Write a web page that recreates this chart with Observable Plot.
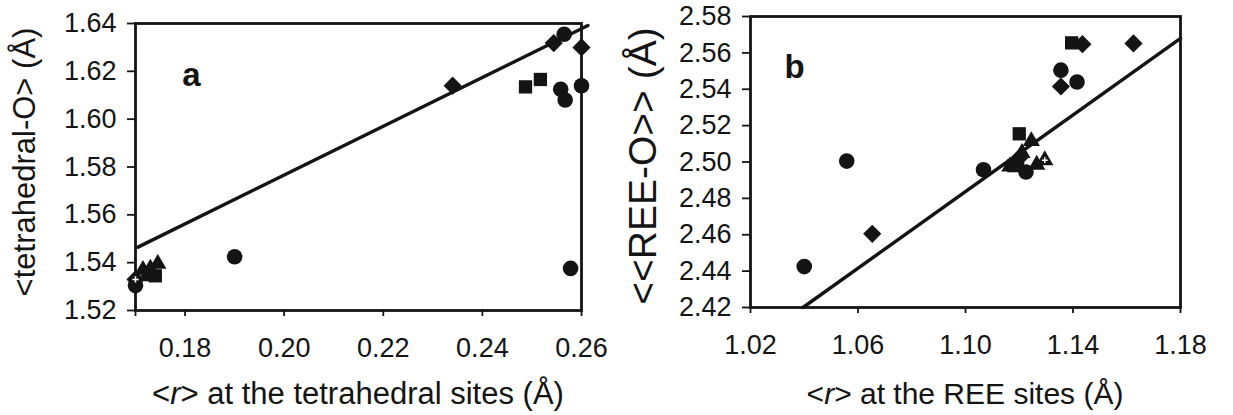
<!DOCTYPE html>
<html><head><meta charset="utf-8">
<script src="https://cdn.jsdelivr.net/npm/d3@7"></script>
<script src="https://cdn.jsdelivr.net/npm/@observablehq/plot@0.6"></script>
<style>
body{margin:0;background:#fff;}
#wrap{display:flex;width:1233px;height:415px;overflow:hidden;}
#wrap svg{display:block;flex:none;}
</style></head><body><div id="wrap"></div>
<script>
// ---------- Panel a ----------
const aXTicks = [0.17, 0.18, 0.20, 0.22, 0.24, 0.26];
const aXLabels = [0.18, 0.20, 0.22, 0.24, 0.26];
const aYTicks = [1.52, 1.54, 1.56, 1.58, 1.60, 1.62, 1.64];
const aCircles = [[0.2565,1.6355],[0.2600,1.6140],[0.2558,1.6125],[0.2567,1.6080],[0.2578,1.5376],[0.1900,1.5425],[0.1700,1.5305]];
const aDiamonds = [[0.2340,1.6140],[0.2544,1.6318],[0.2600,1.6300]];
const aCrossDiamonds = [[0.1700,1.5330]];
const aSquares = [[0.2487,1.6135],[0.2517,1.6166],[0.1725,1.5350],[0.1740,1.5345]];
const aTriangles = [[0.1715,1.5370],[0.1730,1.5375],[0.1745,1.5395]];
const aOpenTriangles = [];
const aFit = [[0.1705,1.5465],[0.2613,1.6392]];
const aXTitle = "<r> at the tetrahedral sites (Å)";
const aYTitle = "<tetrahedral-O> (Å)";

// ---------- Panel b ----------
const bXTicks = [1.02, 1.06, 1.10, 1.14, 1.18];
const bXLabels = [1.02, 1.06, 1.10, 1.14, 1.18];
const bYTicks = [2.42, 2.44, 2.46, 2.48, 2.50, 2.52, 2.54, 2.56, 2.58];
const bCircles = [[1.0400,2.4425],[1.0558,2.5005],[1.1067,2.4957],[1.1225,2.4945],[1.1190,2.4990],[1.1355,2.5505],[1.1415,2.5440]];
const bDiamonds = [[1.0653,2.4605],[1.1355,2.5415],[1.1435,2.5648],[1.1625,2.5652],[1.1205,2.5030]];
const bCrossDiamonds = [];
const bSquares = [[1.1200,2.5155],[1.1395,2.5655],[1.1180,2.4980]];
const bTriangles = [[1.1245,2.5115],[1.1165,2.4975],[1.1265,2.4985],[1.1210,2.5050]];
const bOpenTriangles = [[1.1295,2.5010]];
const bFit = [[1.0395,2.4200],[1.1800,2.5680]];
const bXTitle = "<r> at the REE sites (Å)";
const bYTitle = "<<REE-O>> (Å)";

const INK = "#141414";
const FONT = "'Liberation Sans', Arial, sans-serif";
const TICKFONT = 27;
const fmt = d3.format(".2f");
const X = d => d[0], Y = d => d[1];

function panel(o) {
  const svg = Plot.plot({
    width: o.width, height: 415,
    marginLeft: o.ml, marginRight: o.mr, marginTop: o.mt, marginBottom: o.mb,
    x: {domain: o.xDomain},
    y: {domain: o.yDomain},
    style: {fontFamily: FONT, fontSize: TICKFONT + "px", color: INK, background: "#fff"},
    marks: [
      Plot.axisY({ticks: o.yTicks, tickFormat: fmt, tickSize: 8, tickPadding: 11, strokeWidth: 1.8, label: null, stroke: INK, fill: INK}),
      Plot.axisX({ticks: o.xTicks, tickFormat: () => "", tickSize: 6, tickPadding: 0, strokeWidth: 1.8, label: null, stroke: INK}),
      Plot.axisX({ticks: o.xLabels, tickFormat: fmt, tickSize: 0, tickPadding: o.xPad, label: null, fill: INK}),
      Plot.frame({stroke: INK, strokeWidth: 2.8}),
      Plot.line(o.fit, {x: X, y: Y, stroke: INK, strokeWidth: 3.4}),
      Plot.dot(o.circles, {x: X, y: Y, symbol: "circle", r: 7.8, fill: INK}),
      Plot.dot(o.squares, {x: X, y: Y, symbol: "square", r: 7.5, fill: INK}),
      Plot.dot(o.diamonds, {x: X, y: Y, symbol: "diamond2", r: 8.2, fill: INK}),
      Plot.dot(o.crossDiamonds, {x: X, y: Y, symbol: "diamond2", r: 8.2, fill: INK}),
      Plot.dot(o.crossDiamonds, {x: X, y: Y, symbol: "plus", r: 2.2, stroke: "#fff", strokeWidth: 1.5}),
      Plot.dot(o.triangles, {x: X, y: Y, symbol: "triangle", r: 6.4, fill: INK}),
      Plot.dot(o.openTriangles, {x: X, y: Y, symbol: "triangle", r: 6.4, fill: INK}),
      Plot.dot(o.openTriangles, {x: X, y: Y, symbol: "plus", r: 2, stroke: "#fff", strokeWidth: 1.5}),
      Plot.text([o.tag], {text: d => d, frameAnchor: "top-left", dx: o.tagDx, dy: o.tagDy, fontSize: 33, fontWeight: "bold", textAnchor: "middle", lineAnchor: "middle", fill: INK})
    ]
  });
  const s = d3.select(svg);
  s.selectAll("g[aria-label$='tick label']").attr("font-size", TICKFONT).style("font-size", TICKFONT + "px")
    .selectAll("text").style("font-size", TICKFONT + "px");
  // x-axis title with italic r
  const xt = s.append("text")
    .attr("x", o.xTitleX).attr("y", o.xTitleY)
    .attr("text-anchor", "middle").attr("dominant-baseline", "central")
    .attr("font-family", FONT).attr("font-size", o.xTitleSize).attr("fill", INK);
  xt.append("tspan").text("<");
  xt.append("tspan").attr("font-style", "italic").text("r");
  xt.append("tspan").text(o.xTitle.slice(2));
  // y-axis title, rotated
  s.append("text")
    .attr("transform", `translate(${o.yTitleX},${o.yTitleY}) rotate(-90)`)
    .attr("text-anchor", "middle").attr("dominant-baseline", "central")
    .attr("font-family", FONT).attr("font-size", o.yTitleSize).attr("fill", INK)
    .text(o.yTitle);
  return svg;
}

const pa = panel({
  width: 616, ml: 135, mr: 35, mt: 23, mb: 105,
  xDomain: [0.17, 0.26], yDomain: [1.52, 1.64],
  xTicks: aXTicks, xLabels: aXLabels, yTicks: aYTicks, xPad: 27,
  circles: aCircles, squares: aSquares, diamonds: aDiamonds, crossDiamonds: aCrossDiamonds,
  triangles: aTriangles, openTriangles: aOpenTriangles, fit: aFit,
  tag: "a", tagDx: 56, tagDy: 52,
  xTitle: aXTitle, xTitleX: 358, xTitleY: 393, xTitleSize: 31,
  yTitle: aYTitle, yTitleX: 24, yTitleY: 162, yTitleSize: 31
});
const pb = panel({
  width: 617, ml: 134, mr: 53, mt: 16, mb: 108,
  xDomain: [1.02, 1.18], yDomain: [2.42, 2.58],
  xTicks: bXTicks, xLabels: bXLabels, yTicks: bYTicks, xPad: 27,
  circles: bCircles, squares: bSquares, diamonds: bDiamonds, crossDiamonds: bCrossDiamonds,
  triangles: bTriangles, openTriangles: bOpenTriangles, fit: bFit,
  tag: "b", tagDx: 44, tagDy: 51,
  xTitle: bXTitle, xTitleX: 349, xTitleY: 393, xTitleSize: 30,
  yTitle: bYTitle, yTitleX: 26, yTitleY: 166, yTitleSize: 39
});

document.getElementById("wrap").append(pa, pb);
</script>
</body></html>
